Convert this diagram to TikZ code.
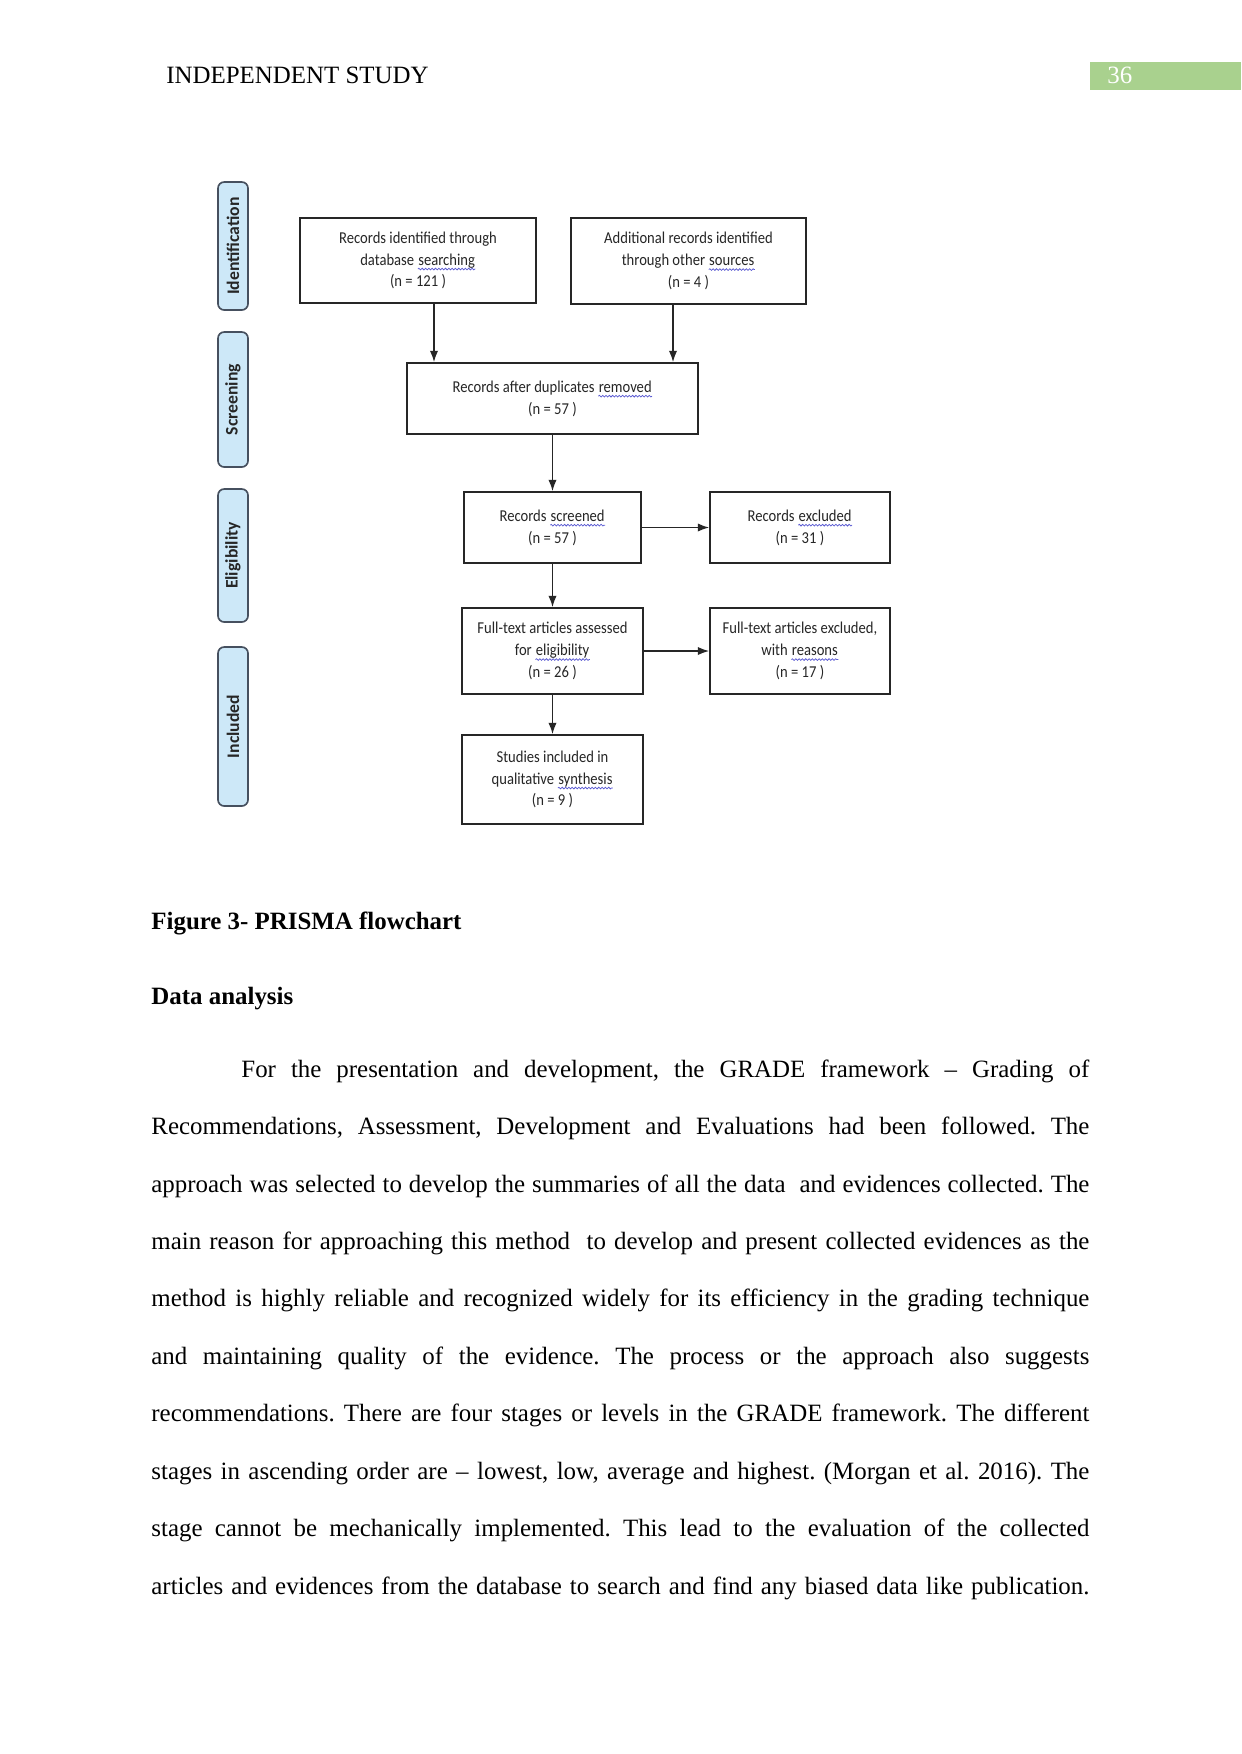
\documentclass[tikz,border=0pt]{standalone}
\usepackage{fontspec}
\setmainfont{Liberation Serif}
\newfontfamily\boxfont{Carlito}[FakeStretch=0.88]
\newfontfamily\stagefont{Carlito}
\definecolor{hdrgreen}{RGB}{169,209,142}
\definecolor{stagefill}{RGB}{205,232,248}
\definecolor{stagedraw}{RGB}{70,80,95}
\definecolor{squiggle}{RGB}{90,90,210}
\usetikzlibrary{arrows.meta,positioning,decorations.pathmorphing}
\newlength{\px}
\setlength{\px}{0.16933mm}
\newcommand{\sq}[1]{\tikz[baseline=(sqw.base)]{\node[inner sep=0pt, draw=none, minimum width=0pt,
    minimum height=0pt, text=black!85] (sqw) {#1};
  \draw[squiggle, line width=0.35pt, decorate, decoration={snake, amplitude=0.4pt, segment length=1.6pt}]
    ([yshift=-1.9pt]sqw.base west) -- ([yshift=-1.9pt]sqw.base east);}}

\begin{document}
\begin{tikzpicture}[x=0.16933mm, y=-0.16933mm,
    prbox/.style={rectangle, draw=black!85, line width=0.8pt, align=center, inner sep=2pt,
      font=\boxfont\fontsize{8}{10.5}\selectfont, text=black!85},
    stage/.style={rectangle, rounded corners=3pt, draw=stagedraw, line width=0.8pt, fill=stagefill,
      rotate=90, minimum height=30\px, inner sep=1pt,
      font=\stagefont\bfseries\fontsize{8.5}{10}\selectfont, text=black!85},
    arr/.style={-{Latex[length=5.5pt,width=4pt]}, line width=0.7pt, black!85},
    plain/.style={anchor=base west, inner sep=0pt, font=\fontsize{12}{14}\selectfont}
  ]
    \fill[white] (0,0) rectangle (1241,1754);
    \useasboundingbox (0,0) rectangle (1241,1754);

    % Page header
    \node[plain] (hdr) at (166,83) {INDEPENDENT STUDY};
    \node[fill=hdrgreen, anchor=north west, inner sep=0pt,
      minimum width=151\px, minimum height=28\px] (pgbox) at (1090,62) {};
    \node[plain, text=white] (pgnum) at (1107,83) {36};

    % Stage labels
    \node[stage, minimum width=128\px] (sid)  at (233,246)   {Identification};
    \node[stage, minimum width=135\px] (sscr) at (233,399.5) {Screening};
    \node[stage, minimum width=133\px] (selg) at (233,555.5) {Eligibility};
    \node[stage, minimum width=159\px] (sinc) at (233,726.5) {Included};

    % Flow boxes
    \node[prbox, minimum width=236\px, minimum height=85\px] (dbrec)  at (418,260.5)
      {Records identified through\\database \sq{searching}\\(n = 121 )};
    \node[prbox, minimum width=235\px, minimum height=86\px] (othrec) at (688.5,261)
      {Additional records identified\\through other \sq{sources}\\(n = 4 )};
    \node[prbox, minimum width=291\px, minimum height=71\px] (dedup)  at (552.5,398.5)
      {Records after duplicates \sq{removed}\\(n = 57 )};
    \node[prbox, minimum width=177\px, minimum height=71\px] (scrn)   at (552.5,527.5)
      {Records \sq{screened}\\(n = 57 )};
    \node[prbox, minimum width=180\px, minimum height=71\px] (excl)   at (800,527.5)
      {Records \sq{excluded}\\(n = 31 )};
    \node[prbox, minimum width=181\px, minimum height=86\px] (ftass)  at (552.5,651)
      {Full-text articles assessed\\for \sq{eligibility}\\(n = 26 )};
    \node[prbox, minimum width=180\px, minimum height=86\px] (ftexcl) at (800,651)
      {Full-text articles excluded,\\with \sq{reasons}\\(n = 17 )};
    \node[prbox, minimum width=181\px, minimum height=89\px] (incl)   at (552.5,779.5)
      {Studies included in\\qualitative \sq{synthesis}\\(n = 9 )};

    \draw[arr] ([xshift=16\px]dbrec.south) -- ([xshift=16\px]dbrec.south |- dedup.north);
    \draw[arr] ([xshift=-15.5\px]othrec.south) -- ([xshift=-15.5\px]othrec.south |- dedup.north);
    \draw[arr] (dedup) -- (scrn);
    \draw[arr] (scrn) -- (excl);
    \draw[arr] (scrn) -- (ftass);
    \draw[arr] (ftass) -- (ftexcl);
    \draw[arr] (ftass) -- (incl);

    % Caption and text
    \node[plain, font=\bfseries\fontsize{12}{14}\selectfont] (cap)  at (151,929)  {Figure 3- PRISMA flowchart};
    \node[plain, font=\bfseries\fontsize{12}{14}\selectfont] (head) at (151,1004) {Data analysis};
    \node[plain, font=\frenchspacing\fontsize{12}{27.7}\selectfont, text width=938\px, align=justify] (para) at (151,1077)
      {\hspace*{90\px}For the presentation and development, the GRADE framework -- Grading of\linebreak
       Recommendations, Assessment, Development and Evaluations had been followed. The\linebreak
       approach was selected to develop the summaries of all the data\ \ and evidences collected. The\linebreak
       main reason for approaching this method\ \ to develop and present collected evidences as the\linebreak
       method is highly reliable and recognized widely for its efficiency in the grading technique\linebreak
       and maintaining quality of the evidence. The process or the approach also suggests\linebreak
       recommendations. There are four stages or levels in the GRADE framework. The different\linebreak
       stages in ascending order are -- lowest, low, average and highest. (Morgan et al. 2016). The\linebreak
       stage cannot be mechanically implemented. This lead to the evaluation of the collected\linebreak
       articles and evidences from the database to search and find any biased data like publication.\parfillskip=0pt\par};
  \end{tikzpicture}
\end{document}
